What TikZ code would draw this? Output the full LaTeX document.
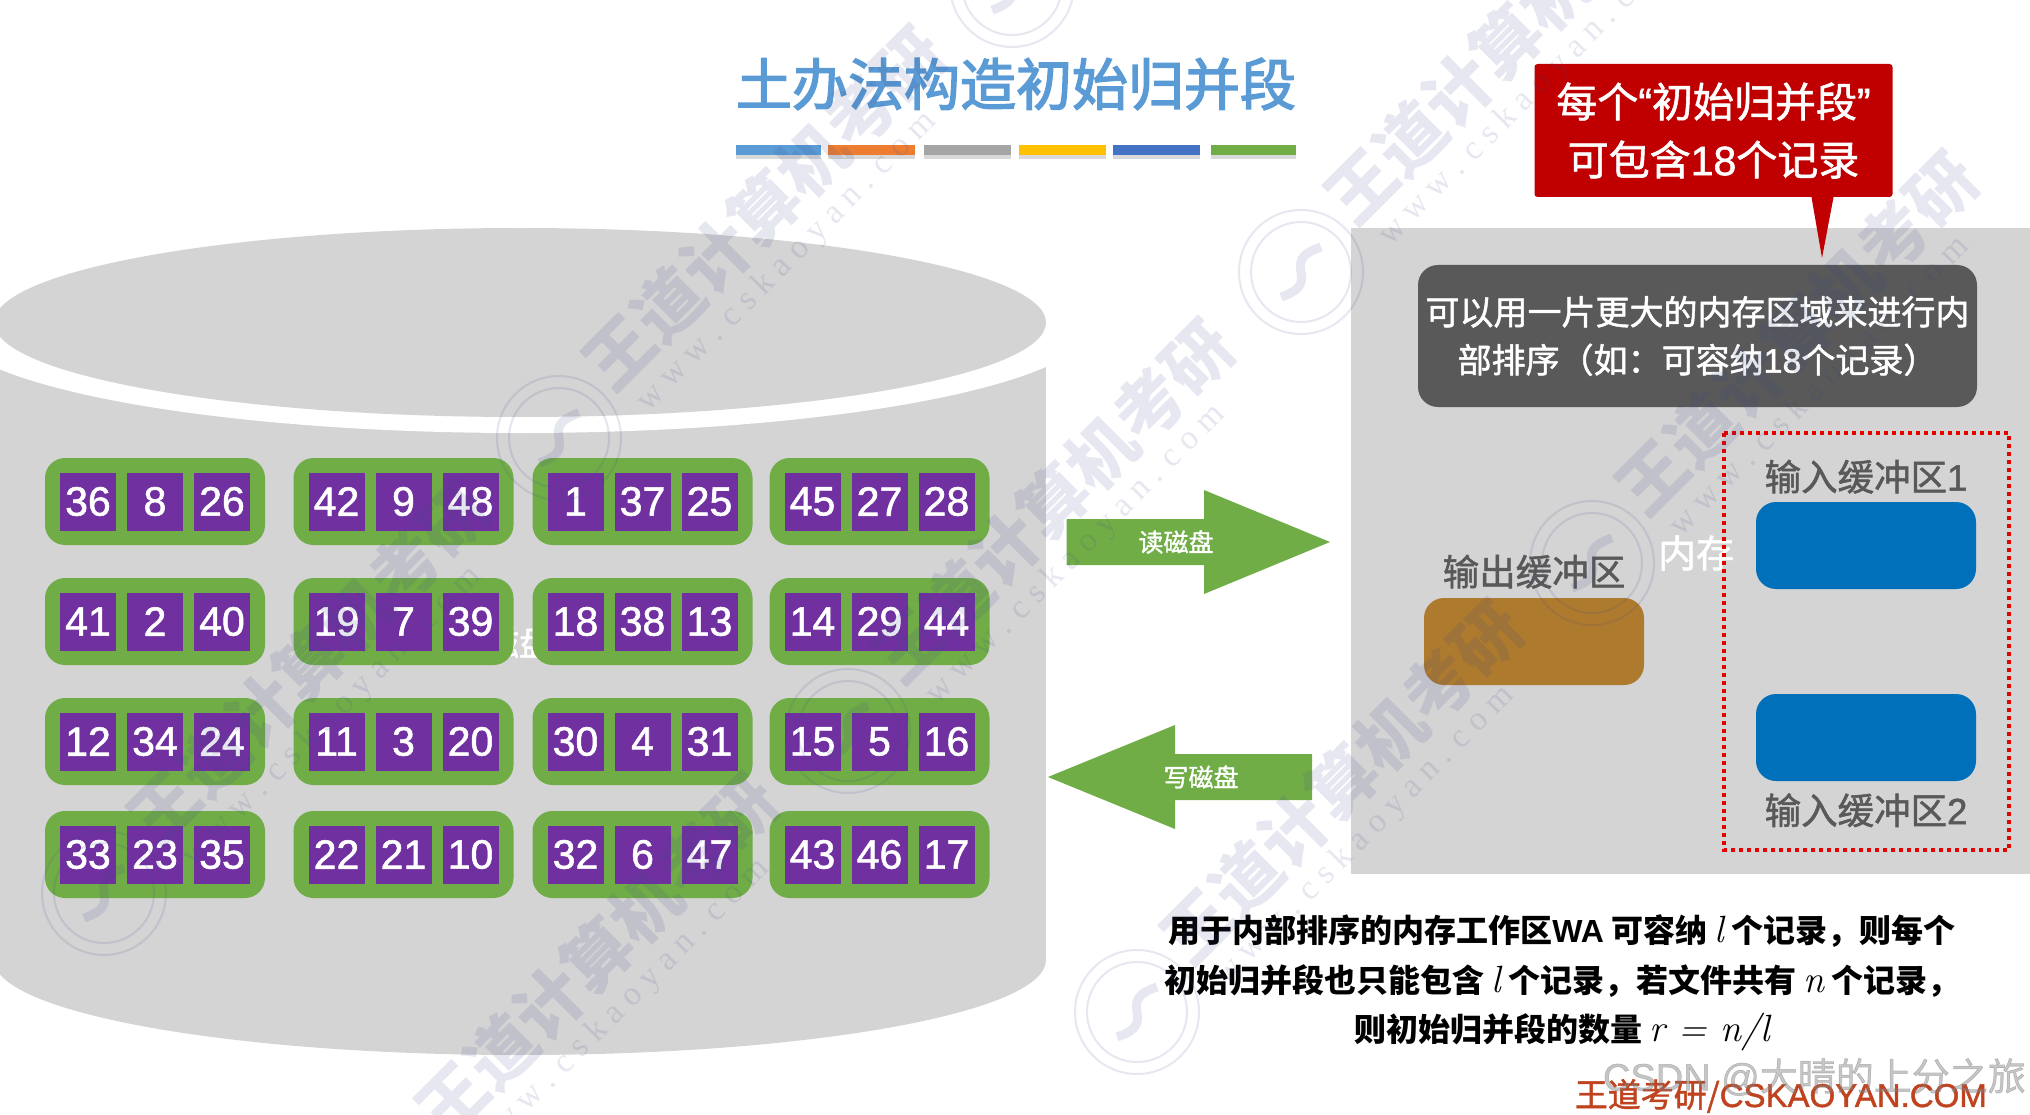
\documentclass[tikz,border=0pt]{standalone}
\usepackage{fontspec}
\setmainfont{Noto Sans CJK SC}[FakeBold=1.4, BoldFeatures={FakeBold=0}]
\newfontfamily\titlefont{Noto Sans CJK SC}[FakeBold=2.6]
\newfontfamily\latn{Liberation Sans}[FakeBold=1.4, BoldFeatures={FakeBold=0}]
\newfontfamily\urlfont{Liberation Serif}
\newcommand{\varname}[1]{{\fontfamily{lmr}\fontsize{38}{49.5}\mdseries\itshape\selectfont #1}}
\usetikzlibrary{positioning, calc, shadows}

\definecolor{diskgray}{HTML}{D4D4D4}
\definecolor{groupgreen}{HTML}{70AD47}
\definecolor{cellpurple}{HTML}{7030A0}
\definecolor{titleblue}{HTML}{5B9BD5}
\definecolor{barorange}{HTML}{ED7D31}
\definecolor{bargray}{HTML}{A5A5A5}
\definecolor{baryellow}{HTML}{FFC000}
\definecolor{barblue}{HTML}{4472C4}
\definecolor{noteslate}{HTML}{595959}
\definecolor{calloutred}{HTML}{C00000}
\definecolor{bufferblue}{HTML}{0070BA}
\definecolor{bufferbrown}{HTML}{AE7A2E}
\definecolor{footerred}{HTML}{C0431F}
\definecolor{markink}{HTML}{3A4888}

\begin{document}
\begin{tikzpicture}[
    x=1pt, y=-1pt,
    % Run group with its three numbers
    rungroup/.style={
        rectangle, fill=groupgreen, rounded corners=20pt,
        minimum width=220pt, minimum height=87pt, inner sep=0pt
    },
    runcell/.style={
        rectangle, fill=cellpurple, text=white, minimum width=56pt, minimum height=58pt,
        inner sep=0pt, font=\fontsize{41}{44}\selectfont\latn
    },
    % Title colour bars
    titlebar/.style={
        rectangle, minimum height=10pt, inner sep=0pt,
        drop shadow={shadow xshift=0pt, shadow yshift=-4pt, opacity=0.3}
    },
    % Buffers in memory
    bufferbox/.style={
        rectangle, rounded corners=20pt, minimum width=220pt, minimum height=87pt, inner sep=0pt
    },
    bufferlabel/.style={
        text=noteslate, inner sep=0pt, font=\fontsize{36.5}{40}\selectfont
    },
    flowarrow/.style={fill=groupgreen},
    flowlabel/.style={
        text=white, inner sep=0pt, font=\fontsize{25}{30}\selectfont
    },
    % Watermark
    markword/.style={
        text=markink, opacity=0.13, rotate=45, inner sep=0pt,
        font=\fontsize{68}{72}\selectfont\bfseries
    },
    markurl/.style={
        text=markink, opacity=0.13, rotate=45, inner sep=0pt,
        font=\fontsize{34}{38}\selectfont\urlfont
    },
    markring/.style={
        circle, draw=markink, opacity=0.13, line width=2pt, minimum size=124pt, inner sep=0pt
    }
]
    \clip (0,0) rectangle (2030,1115);

    % =========================================================================
    % Title
    % =========================================================================
    \node[text=titleblue, inner sep=0pt, font=\fontsize{56}{60}\selectfont\titlefont] (title) at (1016,84) {土办法构造初始归并段};

    \node[titlebar, fill=titleblue, minimum width=85pt] (bar1) at (778.5,150) {};
    \node[titlebar, fill=barorange, minimum width=87pt] (bar2) at (871.5,150) {};
    \node[titlebar, fill=bargray, minimum width=87pt] (bar3) at (967.5,150) {};
    \node[titlebar, fill=baryellow, minimum width=87pt] (bar4) at (1062.5,150) {};
    \node[titlebar, fill=barblue, minimum width=87pt] (bar5) at (1156.5,150) {};
    \node[titlebar, fill=groupgreen, minimum width=85pt] (bar6) at (1253.5,150) {};

    % =========================================================================
    % Disk
    % =========================================================================
    \fill[diskgray] (-10,340) rectangle (1046,960);
    \fill[diskgray] (520,960) ellipse [x radius=526pt, y radius=95pt];
    \fill[white] (520,322) ellipse [x radius=575pt, y radius=111pt];
    \fill[white] (1046,300) rectangle (1110,400);
    \fill[diskgray] (520,322.5) ellipse [x radius=526pt, y radius=94.5pt];

    \node[text=white, inner sep=0pt, font=\fontsize{35}{40}\selectfont] (disklabel) at (519,642) {磁盘};

    % =========================================================================
    % Runs on disk
    % =========================================================================
    \foreach \gx/\gname/\ga/\gb/\gc in {
        155/a/36/8/26, 403.5/b/42/9/48, 642.5/c/1/37/25, 879.5/d/45/27/28}
        {\node[rungroup] (run1\gname) at (\gx,501.5) {};
         \node[runcell] at ($(run1\gname)+(-67,0)$) {\ga};
         \node[runcell] at (run1\gname) {\gb};
         \node[runcell] at ($(run1\gname)+(67,0)$) {\gc};}
    \foreach \gx/\gname/\ga/\gb/\gc in {
        155/a/41/2/40, 403.5/b/19/7/39, 642.5/c/18/38/13, 879.5/d/14/29/44}
        {\node[rungroup] (run2\gname) at (\gx,621.5) {};
         \node[runcell] at ($(run2\gname)+(-67,0)$) {\ga};
         \node[runcell] at (run2\gname) {\gb};
         \node[runcell] at ($(run2\gname)+(67,0)$) {\gc};}
    \foreach \gx/\gname/\ga/\gb/\gc in {
        155/a/12/34/24, 403.5/b/11/3/20, 642.5/c/30/4/31, 879.5/d/15/5/16}
        {\node[rungroup] (run3\gname) at (\gx,741.5) {};
         \node[runcell] at ($(run3\gname)+(-67,0)$) {\ga};
         \node[runcell] at (run3\gname) {\gb};
         \node[runcell] at ($(run3\gname)+(67,0)$) {\gc};}
    \foreach \gx/\gname/\ga/\gb/\gc in {
        155/a/33/23/35, 403.5/b/22/21/10, 642.5/c/32/6/47, 879.5/d/43/46/17}
        {\node[rungroup] (run4\gname) at (\gx,854.5) {};
         \node[runcell] at ($(run4\gname)+(-67,0)$) {\ga};
         \node[runcell] at (run4\gname) {\gb};
         \node[runcell] at ($(run4\gname)+(67,0)$) {\gc};}

    % =========================================================================
    % Read / write arrows
    % =========================================================================
    \fill[flowarrow] (1066.5,519) -- (1204,519) -- (1204,490) -- (1330,542) -- (1204,594) -- (1204,565) -- (1066.5,565) -- cycle;
    \node[flowlabel] (readlabel) at (1176,542) {读磁盘};

    \fill[flowarrow] (1312,754) -- (1175,754) -- (1175,725) -- (1048,777) -- (1175,829) -- (1175,800) -- (1312,800) -- cycle;
    \node[flowlabel] (writelabel) at (1201,777) {写磁盘};

    % =========================================================================
    % Memory
    % =========================================================================
    \fill[diskgray] (1351,228) rectangle (2030,874);

    \node[rectangle, fill=noteslate, rounded corners=20pt, text=white, minimum width=559pt, minimum height=142pt,
          inner sep=0pt, align=center, font=\fontsize{34}{48}\selectfont] (note) at (1697.5,336)
        {可以用一片更大的内存区域来进行内\\部排序（如：可容纳{\latn 18}个记录）};

    \node[text=white, inner sep=0pt, font=\fontsize{38}{42}\selectfont] (memlabel) at (1696,553) {内存};

    \node[bufferbox, fill=bufferbrown] (outbuf) at (1534,641.5) {};
    \node[bufferlabel, above=9pt of outbuf] (outlabel) {输出缓冲区};

    \node[bufferbox, fill=bufferblue] (inbufa) at (1866,545.5) {};
    \node[bufferlabel, above=8pt of inbufa] (inlabela) {输入缓冲区{\latn 1}};

    \node[bufferbox, fill=bufferblue] (inbufb) at (1866,737.5) {};
    \node[bufferlabel, below=12pt of inbufb] (inlabelb) {输入缓冲区{\latn 2}};

    \draw[red!90!black, line width=4pt, dash pattern=on 4pt off 4pt] (1724,433) rectangle (2009,850);

    % =========================================================================
    % Callout
    % =========================================================================
    \node[rectangle, fill=calloutred, rounded corners=3pt, text=white, minimum width=358pt, minimum height=133pt,
          inner sep=0pt, align=center, font=\fontsize{41}{58}\selectfont] (callout) at (1713.5,130.5)
        {每个{\latn “}初始归并段{\latn ”}\\可包含{\latn 18}个记录};
    \coordinate (callouttip) at (1822,258);
    \fill[calloutred] ([xshift=98pt]callout.south) -- (callouttip) -- ([xshift=120pt]callout.south) -- cycle;

    % =========================================================================
    % Explanation and footer
    % =========================================================================
    \node[inner sep=0pt, align=center, font=\fontsize{32}{49.5}\selectfont\bfseries] (explain) at (1562,983)
        {用于内部排序的内存工作区{\latn WA} 可容纳 \varname{l}\ 个记录，则每个\\
         初始归并段也只能包含 \varname{l}\ 个记录，若文件共有 \varname{n}\ 个记录，\\
         则初始归并段的数量 \varname{r = n/l}};

    \node[text=footerred, inner sep=0pt, anchor=east, font=\fontsize{33}{36}\selectfont] (footer) at (1987,1096)
        {王道考研/{\latn CSKAOYAN.COM}};

    % =========================================================================
    % Watermarks
    % =========================================================================
    \foreach \mx/\my in {559/438, 1301/272, 1592/563, 848/731, 104/893, 1137/1012, 392/1185, 1012/-15}
        {\node[markring] at (\mx,\my) {};
         \node[markring, minimum size=100pt] at (\mx,\my) {};
         \draw[markink, opacity=0.13, line width=9pt] (\mx+20,\my-25) .. controls (\mx-25,\my-10) and (\mx+25,\my+10) .. (\mx-20,\my+25);
         \node[markword] at (\mx+205,\my-230) {王道计算机考研};
         \node[markurl] at (\mx+228,\my-176) {w w w . c s k a o y a n . c o m};}

    \node[text=gray, opacity=0.45, inner sep=0pt, anchor=east, font=\fontsize{38}{40}\selectfont] (csdn) at (2026,1077)
        {{\latn CSDN @}大晴的上分之旅};

\end{tikzpicture}
\end{document}
